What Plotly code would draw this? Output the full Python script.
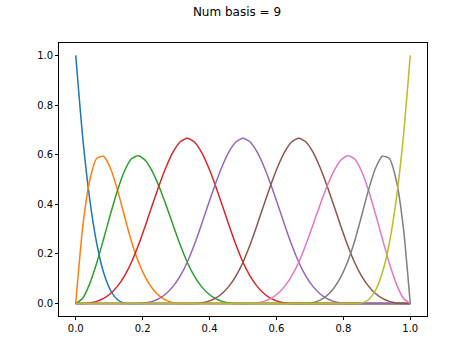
import plotly.graph_objects as go

# sample grid (49 points across [0, 1])
x = [round(i / 48, 5) for i in range(49)]

# basis function values
n0 = [1, 0.669922, 0.421875, 0.244141, 0.125, 0.052734, 0.015625, 0.001953] + [0] * 41
n1 = ([0, 0.308105, 0.496094, 0.584473, 0.59375, 0.544434, 0.457031, 0.352051,
       0.25, 0.16748, 0.105469, 0.061035, 0.03125, 0.013184, 0.003906, 0.000488] + [0] * 33)
n2 = ([0, 0.021647, 0.079427, 0.162598, 0.260417, 0.362142, 0.457031, 0.534342,
       0.583333, 0.596191, 0.576823, 0.532064, 0.46875, 0.393717, 0.313802, 0.23584,
       0.166667, 0.111654, 0.070313, 0.04069, 0.020833, 0.008789, 0.002604, 0.000326] + [0] * 25)
n3 = ([0, 0.000326, 0.002604, 0.008789, 0.020833, 0.04069, 0.070313, 0.111654,
       0.166667, 0.236003, 0.315104, 0.398112, 0.479167, 0.552409, 0.611979, 0.652018,
       0.666667, 0.652018, 0.611979, 0.552409, 0.479167, 0.398112, 0.315104, 0.236003,
       0.166667, 0.111654, 0.070313, 0.04069, 0.020833, 0.008789, 0.002604, 0.000326] + [0] * 17)
n4 = ([0] * 8 +
      [0, 0.000326, 0.002604, 0.008789, 0.020833, 0.04069, 0.070313, 0.111654,
       0.166667, 0.236003, 0.315104, 0.398112, 0.479167, 0.552409, 0.611979, 0.652018,
       0.666667, 0.652018, 0.611979, 0.552409, 0.479167, 0.398112, 0.315104, 0.236003,
       0.166667, 0.111654, 0.070313, 0.04069, 0.020833, 0.008789, 0.002604, 0.000326] + [0] * 9)
n5 = ([0] * 16 +
      [0, 0.000326, 0.002604, 0.008789, 0.020833, 0.04069, 0.070313, 0.111654,
       0.166667, 0.236003, 0.315104, 0.398112, 0.479167, 0.552409, 0.611979, 0.652018,
       0.666667, 0.652018, 0.611979, 0.552409, 0.479167, 0.398112, 0.315104, 0.236003,
       0.166667, 0.111654, 0.070313, 0.04069, 0.020833, 0.008789, 0.002604, 0.000326] + [0])
n6 = ([0] * 25 +
      [0.000326, 0.002604, 0.008789, 0.020833, 0.04069, 0.070313, 0.111654, 0.166667,
       0.23584, 0.313802, 0.393717, 0.46875, 0.532064, 0.576823, 0.596191, 0.583333,
       0.534342, 0.457031, 0.362142, 0.260417, 0.162598, 0.079427, 0.021647, 0])
n7 = ([0] * 33 +
      [0.000488, 0.003906, 0.013184, 0.03125, 0.061035, 0.105469, 0.16748, 0.25,
       0.352051, 0.457031, 0.544434, 0.59375, 0.584473, 0.496094, 0.308105, 0])
n8 = [0] * 41 + [0.001953, 0.015625, 0.052734, 0.125, 0.244141, 0.421875, 0.669922, 1]

series = [n0, n1, n2, n3, n4, n5, n6, n7, n8]
colors = ["#1f77b4", "#ff7f0e", "#2ca02c", "#d62728", "#9467bd",
          "#8c564b", "#e377c2", "#7f7f7f", "#bcbd22"]
tick_vals = [0.0, 0.2, 0.4, 0.6, 0.8, 1.0]
title_text = "Num basis = 9"

fig = go.Figure()
for ys, c in zip(series, colors):
    fig.add_trace(go.Scatter(x=x, y=ys, mode="lines",
                             line=dict(color=c, width=1.5, shape="spline", smoothing=0.6),
                             showlegend=False, hoverinfo="skip"))

axis_common = dict(
    showgrid=False, zeroline=False, showline=True, linecolor="black", linewidth=0.8,
    mirror=True, ticks="outside", ticklen=3, tickwidth=0.8, tickcolor="black",
    tickvals=tick_vals, tickformat=".1f", tickfont=dict(family="DejaVu Sans", size=10, color="black"),
)
fig.update_xaxes(range=[-0.05, 1.05], **axis_common)
fig.update_yaxes(range=[-0.05, 1.05], **axis_common)

fig.update_layout(
    width=474, height=355,
    margin=dict(l=59, r=47, t=43, b=39),
    paper_bgcolor="white", plot_bgcolor="white",
    title=dict(text=title_text, x=0.5, xanchor="center", y=0.978, yanchor="top", yref="container",
               font=dict(family="DejaVu Sans", size=12, color="black")),
)

fig.write_html("out.html")
